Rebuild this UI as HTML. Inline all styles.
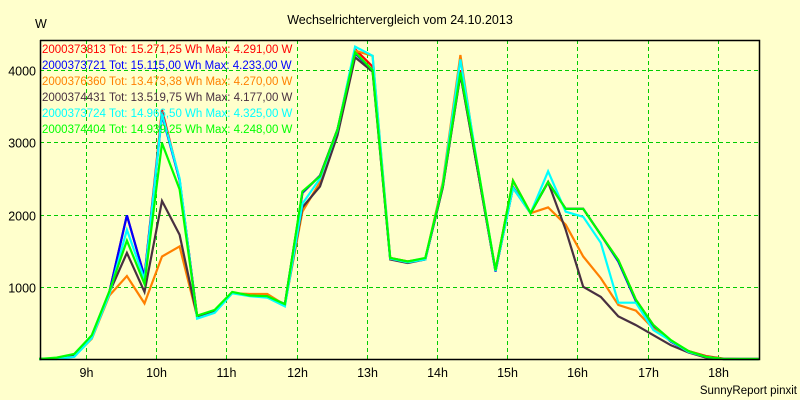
<!DOCTYPE html>
<html><head><meta charset="utf-8"><style>
body{margin:0;background:#ffffcc;}
svg{display:block;font-family:"Liberation Sans",sans-serif;}
</style></head><body>
<svg id="chart" width="800" height="400" viewBox="0 0 800 400">
<rect x="0" y="0" width="800" height="400" fill="#ffffcc"/>
<text x="400" y="24" text-anchor="middle" font-size="12.5" fill="#000">Wechselrichtervergleich vom 24.10.2013</text>
<text x="35" y="28" font-size="12.5" fill="#000">W</text>
<text x="797" y="394" text-anchor="end" font-size="11.5" fill="#000">SunnyReport pinxit</text>
<g id="grid"></g><g id="series"></g><g id="axes"></g><g id="legend"></g>
</svg>
<script>
const hourTicks=[9,10,11,12,13,14,15,16,17,18];
const wattTicks=[1000,2000,3000,4000];
const startHour=8.333, stepHour=0.25;
const names=["2000373813","2000373721","2000376360","2000374431","2000373724","2000374404"];
const totals=["15.271,25","15.115,00","13.473,38","13.519,75","14.966,50","14.939,25"];
const maxima=["4.291,00","4.233,00","4.270,00","4.177,00","4.325,00","4.248,00"];
const colors=["#ff0000","#0000ff","#ff8000","#483040","#00ffff","#00ff00"];
const sRed=[0,10,60,320,930,1990,1140,3450,2480,590,650,920,880,870,760,2300,2540,3180,4291,4050,1400,1350,1390,2400,4000,2600,1230,2470,2020,2450,2080,2080,1720,1370,820,470,250,110,40,5,0,0];
const sBlue=[0,10,50,320,930,1990,1140,3380,2480,590,650,920,880,870,760,2300,2540,3180,4233,4000,1390,1340,1380,2380,3950,2600,1210,2380,2020,2450,2080,2080,1720,1350,800,450,240,100,20,0,0,0];
const sOrange=[0,10,40,280,880,1150,770,1420,1560,590,650,910,900,900,750,2040,2450,3150,4270,4200,1400,1350,1390,2450,4210,2600,1230,2470,2020,2100,1860,1420,1120,750,670,420,250,110,30,0,0,0];
const sDark=[0,10,50,300,920,1470,930,2190,1720,590,650,920,880,860,750,2100,2390,3100,4177,3980,1380,1330,1380,2380,3940,2600,1220,2370,2020,2450,1790,1000,860,590,470,330,190,90,20,0,0,0];
const sCyan=[0,0,30,290,900,1790,1100,3400,2500,560,640,910,870,850,730,2150,2500,3170,4325,4200,1390,1340,1380,2420,4150,2650,1220,2370,2020,2600,2040,1970,1610,780,780,400,250,100,30,0,0,0];
const sGreen=[0,20,70,330,940,1640,1040,2990,2350,600,680,930,880,870,760,2320,2530,3180,4248,4000,1400,1350,1400,2400,3970,2650,1230,2470,2020,2450,2080,2080,1720,1370,820,470,260,110,30,0,0,0];
const allSeries=[sRed,sBlue,sOrange,sDark,sCyan,sGreen];
const L=40,R=759,T=40,B=359;
const xH=h=>86+(h-9)*70.2;
const yW=w=>B-w*0.0722;
const NS="http://www.w3.org/2000/svg";
function mk(tag,attrs,parent){const e=document.createElementNS(NS,tag);for(const k in attrs)e.setAttribute(k,attrs[k]);parent.appendChild(e);return e;}
const grid=document.getElementById('grid'),axes=document.getElementById('axes'),ser=document.getElementById('series'),leg=document.getElementById('legend');
hourTicks.forEach(h=>{const x=Math.round(xH(h))+0.5;
 const g=mk('line',{x1:x,x2:x,y1:T,y2:B,stroke:'#00cc00','stroke-dasharray':'4,3'},grid);
 
 
 const t=mk('text',{x:x,y:B+18,'text-anchor':'middle','font-size':'12.5'},axes);t.textContent=h+'h';
 
 
});
wattTicks.forEach(w=>{const y=Math.round(yW(w))+0.5;
 const g=mk('line',{x1:L,x2:R,y1:y,y2:y,stroke:'#00cc00','stroke-dasharray':'4,3'},grid);
 
 
 const t=mk('text',{x:36,y:y+5,'text-anchor':'end','font-size':'12.5'},axes);t.textContent=w;
 
 
});
const frame=mk('path',{d:`M${L+0.5},${T} V${B+0.5} H${R+0.5} V${T+0.5} H${L}`,fill:'none',stroke:'#000','stroke-width':1.5},axes);


allSeries.forEach((s,i)=>{
 const pts=s.map((v,k)=>xH(startHour+k*stepHour).toFixed(1)+','+yW(v).toFixed(1)).join(' ');
 const p=mk('polyline',{points:pts,fill:'none',stroke:colors[i],'stroke-width':2.2,'stroke-linejoin':'miter'},ser);
 
 
});
names.forEach((n,i)=>{
 const t=mk('text',{x:42,y:53+i*16,'font-size':'11.5',fill:colors[i]},leg);
 t.textContent=n+' Tot: '+totals[i]+' Wh Max: '+maxima[i]+' W';
 
 
});
</script>
</body></html>
